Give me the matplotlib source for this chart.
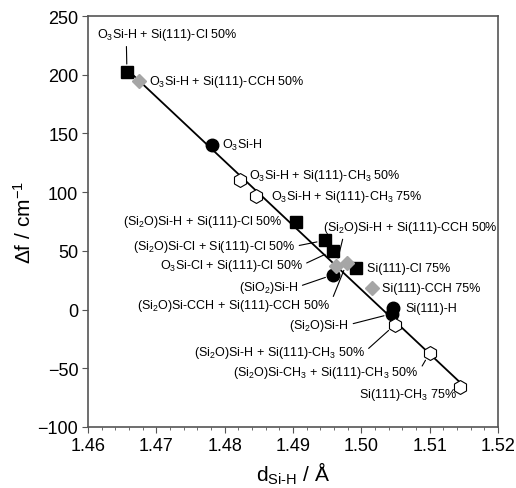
import numpy as np
import matplotlib
matplotlib.use("Agg")
import matplotlib.pyplot as plt
from matplotlib.ticker import MultipleLocator

plt.rcParams['font.family'] = ['Liberation Sans', 'DejaVu Sans']
plt.rcParams['mathtext.fontset'] = 'custom'
plt.rcParams['mathtext.rm'] = 'Liberation Sans'
plt.rcParams['mathtext.it'] = 'Liberation Sans:italic'
plt.rcParams['mathtext.bf'] = 'Liberation Sans:bold'

# data
sq_x = [1.4657, 1.4905, 1.4947, 1.4958, 1.4992]
sq_y = [202, 75, 59, 50, 35]
sq_lab = ['O$_3$Si-H + Si(111)-Cl 50%', '(Si$_2$O)Si-H + Si(111)-Cl 50%',
          '(Si$_2$O)Si-Cl + Si(111)-Cl 50%', 'O$_3$Si-Cl + Si(111)-Cl 50%',
          'Si(111)-Cl 75%']

ci_x = [1.4781, 1.4959, 1.5047, 1.5045]
ci_y = [140.5, 29.7, 1.5, -3.5]
ci_lab = ['O$_3$Si-H', '(SiO$_2$)Si-H', 'Si(111)-H', '(Si$_2$O)Si-H']

di_x = [1.4674, 1.4963, 1.4979, 1.5015]
di_y = [195, 37, 40, 18.4]
di_lab = ['O$_3$Si-H + Si(111)-CCH 50%', '(Si$_2$O)Si-H + Si(111)-CCH 50%',
          '(Si$_2$O)Si-CCH + Si(111)-CCH 50%', 'Si(111)-CCH 75%']

hx_x = [1.4823, 1.4846, 1.5049, 1.5100, 1.5145]
hx_y = [110.4, 97, -13, -37, -66]
hx_lab = ['O$_3$Si-H + Si(111)-CH$_3$ 50%', 'O$_3$Si-H + Si(111)-CH$_3$ 75%',
          '(Si$_2$O)Si-H + Si(111)-CH$_3$ 50%',
          '(Si$_2$O)Si-CH$_3$ + Si(111)-CH$_3$ 50%', 'Si(111)-CH$_3$ 75%']

fit_x = [1.4659, 1.5147]
fit_y = [203.5, -63.4]

# label placement: (dx, dy) in pixels from point (up = +), ha, leader line?, relpos
sq_pos = [(40, 30, 'center', True, (0.21, 0.0)),
          (-14, 0, 'right', False, None),
          (-30, -6, 'right', True, (1.0, 0.5)),
          (-30, -14, 'right', True, (1.0, 0.5)),
          (11, 0, 'left', False, None)]
ci_pos = [(10, 0, 'left', False, None),
          (-35, -12, 'right', True, (1.0, 0.5)),
          (12, 0, 'left', False, None),
          (-43, -11, 'right', True, (1.0, 0.5))]
di_pos = [(10, 0, 'left', False, None),
          (74, 31, 'center', True, (0.12, 0.0)),
          (-17, -42, 'right', True, (1.0, 0.5)),
          (10, 0, 'left', False, None)]
hx_pos = [(9, 5, 'left', False, None),
          (15, 0, 'left', False, None),
          (-30, -27, 'right', True, (1.0, 0.5)),
          (-11, -19, 'right', True, (1.0, 0.5)),
          (-3, -7, 'right', False, None)]

fig = plt.figure(figsize=(5.16, 4.89), dpi=100)
ax = fig.add_axes([88/516, 1-428/489, 410/516, 411/489])

ax.plot(fit_x, fit_y, color='black', lw=1.3, zorder=2)
ax.plot(sq_x, sq_y, 's', color='black', ms=8, zorder=3)
ax.plot(ci_x, ci_y, 'o', color='black', ms=9, zorder=3)
ax.plot(di_x, di_y, 'D', color='#a6a6a6', mec='#a6a6a6', ms=7, zorder=3)
ax.plot(hx_x, hx_y, 'h', mfc='white', mec='black', mew=0.8, ms=10, zorder=3)


def label(xs, ys, labs, pos):
    for x, y, t, (dx, dy, ha, lead, rp) in zip(xs, ys, labs, pos):
        kw = {}
        if lead:
            kw['arrowprops'] = dict(arrowstyle='-', color='black', lw=0.8,
                                    shrinkA=1, shrinkB=6, relpos=rp)
        va = 'bottom' if ha == 'center' else 'center'
        ax.annotate(t, xy=(x, y), xytext=(dx, dy),
                    textcoords='offset pixels', ha=ha, va=va, fontsize=9,
                    zorder=4, **kw)


label(sq_x, sq_y, sq_lab, sq_pos)
label(ci_x, ci_y, ci_lab, ci_pos)
label(di_x, di_y, di_lab, di_pos)
label(hx_x, hx_y, hx_lab, hx_pos)

ax.set_xlim(1.46, 1.52)
ax.set_ylim(-100, 250)
ax.xaxis.set_major_locator(MultipleLocator(0.01))
ax.xaxis.set_minor_locator(MultipleLocator(0.002))
ax.yaxis.set_major_locator(MultipleLocator(50))
ax.xaxis.set_major_formatter(matplotlib.ticker.FormatStrFormatter('%.2f'))
ax.tick_params(axis='both', which='major', labelsize=13, length=4,
               color='#555555', direction='out', pad=3)
ax.tick_params(axis='x', which='minor', length=2.5, color='#555555')
for s in ax.spines.values():
    s.set_color('#555555')
    s.set_linewidth(1.2)

ax.set_xlabel('d$_{\\mathrm{Si\\text{-}H}}$ / Å', fontsize=15, labelpad=4)
ax.set_ylabel('Δf / cm$^{-1}$', fontsize=15, labelpad=2)

fig.savefig('out.png', dpi=100)
